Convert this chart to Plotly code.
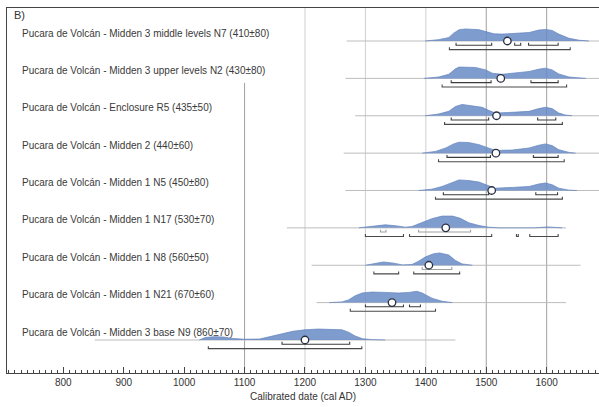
import plotly.graph_objects as go

# ---------------- data ----------------
labels = [
    "Pucara de Volcán - Midden 3 middle levels N7 (410±80)",
    "Pucara de Volcán - Midden 3 upper levels N2 (430±80)",
    "Pucara de Volcán - Enclosure R5 (435±50)",
    "Pucara de Volcán - Midden 2 (440±60)",
    "Pucara de Volcán - Midden 1 N5 (450±80)",
    "Pucara de Volcán - Midden 1 N17 (530±70)",
    "Pucara de Volcán - Midden 1 N8 (560±50)",
    "Pucara de Volcán - Midden 1 N21 (670±60)",
    "Pucara de Volcán - Midden 3 base N9 (860±70)",
]

n7_years = [1399, 1421, 1438, 1446, 1455, 1466, 1488, 1499, 1513, 1526, 1549, 1571, 1587, 1598, 1609, 1620, 1637, 1654, 1670]
n7_prob = [0, 0.11, 0.28, 0.64, 0.92, 0.98, 0.92, 0.78, 0.58, 0.56, 0.64, 0.69, 0.89, 0.94, 0.86, 0.56, 0.22, 0.06, 0]

n2_years = [1397, 1421, 1438, 1449, 1455, 1482, 1499, 1510, 1526, 1543, 1571, 1587, 1598, 1609, 1620, 1637, 1654, 1665]
n2_prob = [0, 0.11, 0.33, 0.78, 0.92, 0.89, 0.69, 0.42, 0.33, 0.42, 0.56, 0.75, 0.83, 0.69, 0.36, 0.11, 0.03, 0]

r5_years = [1399, 1421, 1438, 1449, 1460, 1477, 1493, 1504, 1515, 1543, 1571, 1587, 1598, 1609, 1620, 1631, 1642]
r5_prob = [0, 0.14, 0.36, 0.75, 0.92, 0.83, 0.69, 0.44, 0.22, 0.28, 0.36, 0.58, 0.69, 0.58, 0.22, 0.06, 0]

m2_years = [1394, 1416, 1433, 1446, 1455, 1471, 1488, 1502, 1515, 1543, 1571, 1587, 1598, 1609, 1620, 1637, 1648]
m2_prob = [0, 0.14, 0.42, 0.75, 0.89, 0.86, 0.69, 0.42, 0.22, 0.25, 0.42, 0.64, 0.75, 0.61, 0.28, 0.06, 0]

n5_years = [1388, 1410, 1427, 1444, 1455, 1471, 1488, 1502, 1515, 1543, 1571, 1587, 1598, 1609, 1620, 1637, 1650]
n5_prob = [0, 0.11, 0.33, 0.69, 0.86, 0.81, 0.69, 0.42, 0.19, 0.25, 0.33, 0.53, 0.61, 0.47, 0.19, 0.03, 0]

n17_years = [1289, 1311, 1333, 1350, 1366, 1377, 1394, 1410, 1427, 1444, 1457, 1471, 1488, 1504, 1521, 1580, 1601, 1626]
n17_prob = [0, 0.11, 0.25, 0.17, 0.06, 0.11, 0.42, 0.75, 0.96, 0.96, 0.78, 0.42, 0.19, 0.06, 0, 0, 0.08, 0]

n8_years = [1300, 1317, 1330, 1347, 1361, 1377, 1388, 1399, 1413, 1423, 1438, 1449, 1460, 1477]
n8_prob = [0, 0.14, 0.27, 0.17, 0.03, 0.06, 0.33, 0.67, 0.94, 1.0, 0.83, 0.39, 0.11, 0]

n21_years = [1240, 1261, 1272, 1283, 1295, 1311, 1333, 1355, 1372, 1385, 1394, 1410, 1427, 1444]
n21_prob = [0, 0.06, 0.22, 0.56, 0.79, 0.86, 0.83, 0.78, 0.83, 0.92, 0.78, 0.36, 0.11, 0]

n9_years = [1025, 1035, 1050, 1065, 1080, 1100, 1125, 1145, 1162, 1180, 1200, 1222, 1245, 1261, 1272, 1283, 1295, 1311, 1333]
n9_prob = [0, 0.2, 0.27, 0.24, 0.13, 0.06, 0.08, 0.28, 0.5, 0.71, 0.83, 0.89, 0.89, 0.83, 0.64, 0.33, 0.11, 0.03, 0]

# 68.2% and 95.4% ranges (cal AD)
range68 = [
    [(1450, 1509), (1547, 1557), (1570, 1619)],
    [(1442, 1508), (1574, 1619)],
    [(1442, 1504), (1585, 1615)],
    [(1435, 1507), (1578, 1619)],
    [(1429, 1504), (1582, 1618)],
    [(1325, 1334), (1388, 1474)],
    [(1394, 1443)],
    [(1300, 1363), (1373, 1391)],
    [(1162, 1274)],
]
range95 = [
    [(1439, 1639)],
    [(1427, 1633)],
    [(1431, 1626)],
    [(1421, 1629)],
    [(1416, 1626)],
    [(1300, 1363), (1373, 1509), (1550, 1553), (1572, 1619)],
    [(1314, 1355), (1380, 1456)],
    [(1275, 1416)],
    [(1040, 1294)],
]
medians = [1535, 1524, 1517, 1516, 1509, 1433, 1405, 1344, 1200]

# extent of each calibrated curve's base line
extent_start = [1269, 1267, 1283, 1264, 1267, 1170, 1211, 1219, 852]
extent_end = [1700, 1700, 1700, 1700, 1700, 1632, 1656, 1632, 1449]

grid_years = [1100, 1200, 1300, 1400, 1500, 1600]
tick_years = [800, 900, 1000, 1100, 1200, 1300, 1400, 1500, 1600]

years_list = [n7_years, n2_years, r5_years, m2_years, n5_years, n17_years, n8_years, n21_years, n9_years]
prob_list = [n7_prob, n2_prob, r5_prob, m2_prob, n5_prob, n17_prob, n8_prob, n21_prob, n9_prob]

# ---------------- styling ----------------
ROW_PX = 37.375
DENS = 12.3 / ROW_PX
OFF68 = 4.2 / ROW_PX
OFF95 = 8.6 / ROW_PX
TICK = 2.4 / ROW_PX
LABEL_UP = 8.0 / ROW_PX
FONT = "Liberation Sans, Arial, sans-serif"
range68_colors = ["#3c3c3c"] * 5 + ["#a0a0a0", "#a0a0a0"] + ["#3c3c3c"] * 2
range95_color = "#4a4a4a"

nrows = len(labels)
bases = [nrows - i for i in range(nrows)]

fig = go.Figure()

# base lines
for i in range(nrows):
    fig.add_trace(go.Scatter(
        x=[extent_start[i], extent_end[i]], y=[bases[i], bases[i]],
        mode="lines", line=dict(color="#bdbdbd", width=1), hoverinfo="skip"))

# distributions
for i in range(nrows):
    fig.add_trace(go.Scatter(
        x=years_list[i], y=[bases[i] + p * DENS for p in prob_list[i]],
        mode="lines", fill="toself", fillcolor="rgba(104,139,198,0.85)",
        line=dict(color="rgba(98,131,190,1)", width=0.7), hoverinfo="skip"))


def bracket_path(ranges, y0):
    xs, ys = [], []
    for a, b in ranges:
        xs += [a, a, b, b, None]
        ys += [y0 + TICK, y0, y0, y0 + TICK, None]
    return xs, ys


for i in range(nrows):
    xs, ys = bracket_path(range68[i], bases[i] - OFF68)
    fig.add_trace(go.Scatter(x=xs, y=ys, mode="lines",
                             line=dict(color=range68_colors[i], width=1.1), hoverinfo="skip"))
    xs, ys = bracket_path(range95[i], bases[i] - OFF95)
    fig.add_trace(go.Scatter(x=xs, y=ys, mode="lines",
                             line=dict(color=range95_color, width=1.1), hoverinfo="skip"))

# medians
fig.add_trace(go.Scatter(
    x=medians, y=bases, mode="markers",
    marker=dict(symbol="circle", size=7.5, color="white",
                line=dict(color="#2a2f40", width=1.3)),
    hoverinfo="skip"))

# labels
for i in range(nrows):
    fig.add_annotation(x=729, y=bases[i] + LABEL_UP, xref="x", yref="y",
                       text=labels[i], showarrow=False, xanchor="left", yanchor="middle",
                       font=dict(family=FONT, size=10, color="#3a3a3a"))

fig.add_annotation(x=0.008, y=0.982, xref="paper", yref="paper", text="B)",
                   showarrow=False, xanchor="left", yanchor="middle",
                   font=dict(family=FONT, size=11, color="#333333"))

# gridlines
ymin, ymax = 0.117, 9.883
for yr in grid_years:
    top = ymax if yr != 1100 else bases[1] - 0.12
    col = "#a0a0a0" if yr in (1100, 1500, 1600) else "#cfcfcf"
    fig.add_shape(type="line", x0=yr, x1=yr, y0=ymin, y1=top, xref="x", yref="y",
                  line=dict(color=col, width=1), layer="below")

fig.update_layout(
    width=599, height=407,
    margin=dict(l=7, r=0, t=8, b=34),
    plot_bgcolor="white", paper_bgcolor="white",
    showlegend=False,
    font=dict(family=FONT, color="#333333"),
    xaxis=dict(
        range=[706.8, 1686.6], showgrid=False, zeroline=False,
        showline=True, linecolor="#444444", linewidth=1, mirror=True,
        tickmode="array", tickvals=tick_years, ticktext=[str(t) for t in tick_years],
        ticks="inside", ticklen=6, tickcolor="#444444", tickwidth=1,
        minor=dict(dtick=10, tick0=700, ticks="inside", ticklen=3, tickcolor="#444444", tickwidth=1),
        tickfont=dict(family=FONT, size=10, color="#333333"),
        title=dict(text="Calibrated date (cal AD)", font=dict(family=FONT, size=10, color="#333333"), standoff=5),
    ),
    yaxis=dict(
        range=[ymin, ymax], showgrid=False, zeroline=False, showticklabels=False,
        showline=True, linecolor="#444444", linewidth=1, ticks="",
    ),
)

fig.write_html("out.html")
